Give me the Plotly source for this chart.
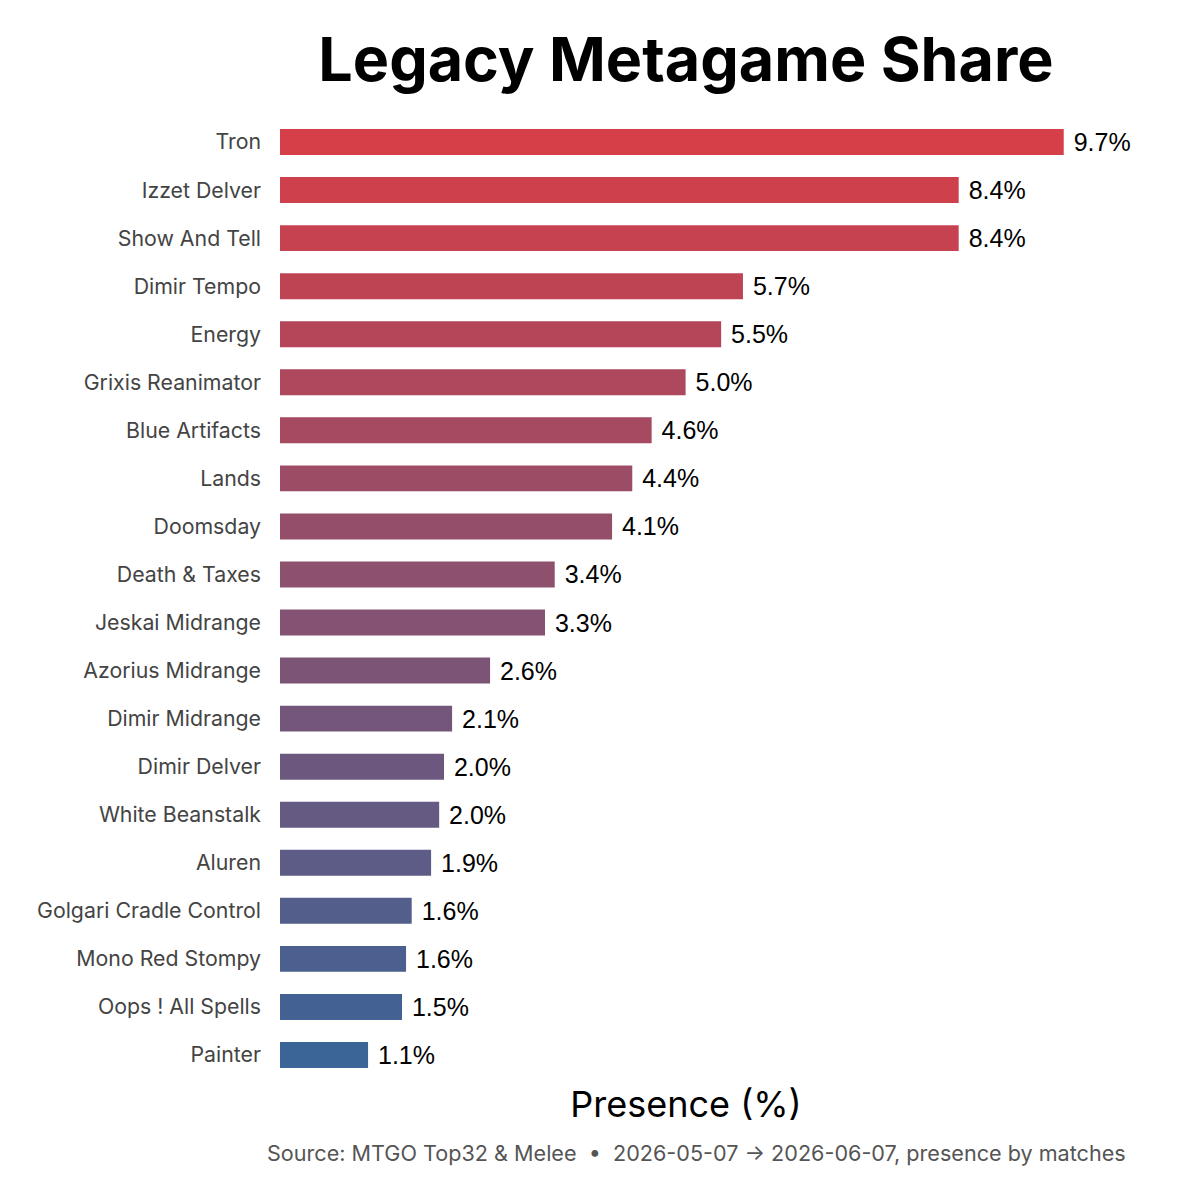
import plotly.graph_objects as go

# Archetypes and their share (%), top to bottom
decks = ["Tron", "Izzet Delver", "Show And Tell", "Dimir Tempo", "Energy",
         "Grixis Reanimator", "Blue Artifacts", "Lands", "Doomsday", "Death & Taxes",
         "Jeskai Midrange", "Azorius Midrange", "Dimir Midrange", "Dimir Delver",
         "White Beanstalk", "Aluren", "Golgari Cradle Control", "Mono Red Stompy",
         "Oops ! All Spells", "Painter"]
presence = [9.7, 8.4, 8.4, 5.73, 5.46, 5.02, 4.6, 4.36, 4.11, 3.4,
            3.28, 2.6, 2.13, 2.03, 1.97, 1.87, 1.63, 1.56, 1.51, 1.09]

# colour ramp red -> blue by rank
c_top = (214, 62, 72)
c_bot = (59, 100, 151)
n = len(decks)
colors = []
for i in range(n):
    t = i / (n - 1)
    rgb = [round(a + (b - a) * t) for a, b in zip(c_top, c_bot)]
    colors.append("rgb(%d,%d,%d)" % tuple(rgb))

fig = go.Figure(go.Bar(
    x=presence,
    y=decks,
    orientation="h",
    marker=dict(color=colors, line=dict(width=0)),
    texttemplate=" %{x:.1f}%",
    textposition="outside",
    constraintext="none",
    textfont=dict(family="Liberation Sans, Arial", size=25, color="black"),
    cliponaxis=False,
))

fig.update_layout(
    width=1200, height=1200,
    paper_bgcolor="white", plot_bgcolor="white",
    margin=dict(l=272, r=116, t=110, b=129),
    bargap=0.46,
    showlegend=False,
    title=dict(text="<b>Legacy Metagame Share</b>", x=0.5, xref="paper",
               y=0.9567, yanchor="middle",
               font=dict(family="Inter", size=61, color="black")),
    font=dict(family="Inter"),
)

fig.update_xaxes(range=[0, 10.05], showgrid=False, zeroline=False,
                 showticklabels=False, showline=False,
                 title=dict(text="Presence (%)", standoff=12,
                            font=dict(family="Inter", size=36, color="black")))
fig.update_yaxes(autorange="reversed", showgrid=False, showline=False,
                 ticklabelstandoff=18,
                 tickfont=dict(family="Inter", size=21.3, color="#444444"))

fig.add_annotation(text="Source: MTGO Top32 & Melee  •  2026-05-07 → 2026-06-07, presence by matches",
                   xref="paper", yref="paper", x=1.0443, y=-0.077,
                   xanchor="right", yanchor="middle", showarrow=False,
                   font=dict(family="Inter", size=21.6, color="#555555"))

fig.write_html("out.html")
